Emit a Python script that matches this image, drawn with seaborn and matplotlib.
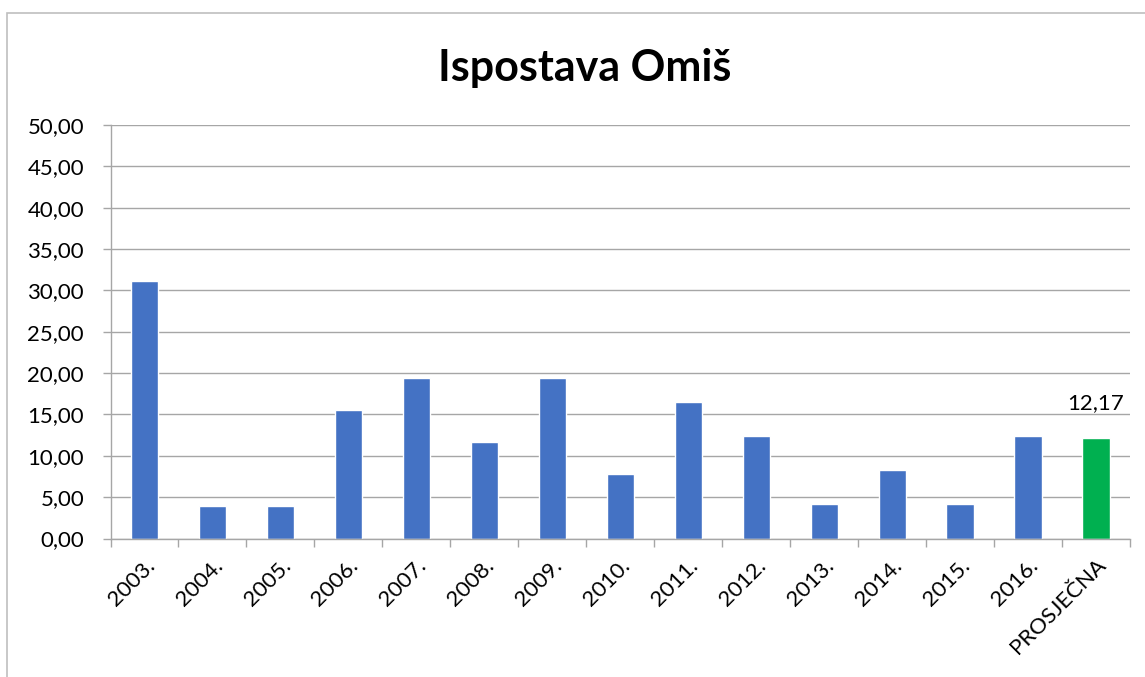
import matplotlib
matplotlib.use("Agg")
import matplotlib.pyplot as plt
import seaborn as sns
import pandas as pd
from matplotlib.patches import Rectangle
from matplotlib.ticker import FixedLocator, FuncFormatter

categories = ["2003.", "2004.", "2005.", "2006.", "2007.", "2008.", "2009.",
              "2010.", "2011.", "2012.", "2013.", "2014.", "2015.", "2016.", "PROSJEČNA"]
values = [31.11, 3.89, 3.89, 15.56, 19.44, 11.67, 19.44,
          7.78, 16.49, 12.37, 4.12, 8.25, 4.12, 12.37, 12.17]
bar_colors = ["#4472C4"] * 14 + ["#00B050"]
title = "Ispostava Omiš"

sns.set_theme(style="white")
plt.rcParams['font.family'] = ['Lato', 'DejaVu Sans']

df = pd.DataFrame({"cat": categories, "val": values})

fig = plt.figure(figsize=(11.45, 6.77), dpi=100)
ax = fig.add_axes([110.5/1145, 1-538.5/677, 1019.5/1145, 413.5/677])

sns.barplot(data=df, x="cat", y="val", hue="cat", palette=bar_colors,
            legend=False, width=0.40, ax=ax, saturation=1)

ax.set_ylim(0, 50)
ax.set_xlim(-0.5, len(categories) - 0.5)
ax.set_yticks(range(0, 51, 5))
ax.yaxis.set_major_formatter(FuncFormatter(lambda v, p: f"{v:.2f}".replace(".", ",")))
ax.grid(axis="y", color="#a6a6a6", linewidth=1)
ax.set_axisbelow(True)
for s in ["top", "right"]:
    ax.spines[s].set_visible(False)
for s in ["left", "bottom"]:
    ax.spines[s].set_color("#a6a6a6")
    ax.spines[s].set_linewidth(1)

ax.tick_params(axis="y", which="major", length=6, color="#a6a6a6", width=1,
               labelsize=16, labelcolor="black", pad=13, left=True)
ax.tick_params(axis="x", which="major", length=0, labelsize=16, labelcolor="black", pad=12)
ax.xaxis.set_minor_locator(FixedLocator([i - 0.5 for i in range(len(categories) + 1)]))
ax.tick_params(axis="x", which="minor", length=6, color="#a6a6a6", width=1, bottom=True)
plt.setp(ax.get_xticklabels(), rotation=45, ha="right", rotation_mode="anchor")

ax.set_xlabel("")
ax.set_ylabel("")

last = len(categories) - 1
ax.text(last, values[last] + 3.0, f"{values[last]:.2f}".replace(".", ","),
        ha="center", va="bottom", fontsize=16, color="black")

fig.text(585/1145, 1 - 68/677, title, ha="center", va="center",
         fontsize=31, fontweight="bold", color="black")

fig.patches.append(Rectangle((7/1145, -0.05), 1.2, 1 - 13/677 + 0.05,
                             transform=fig.transFigure, fill=False,
                             edgecolor="#bfbfbf", linewidth=1.2))

fig.savefig("out.png", dpi=100)
